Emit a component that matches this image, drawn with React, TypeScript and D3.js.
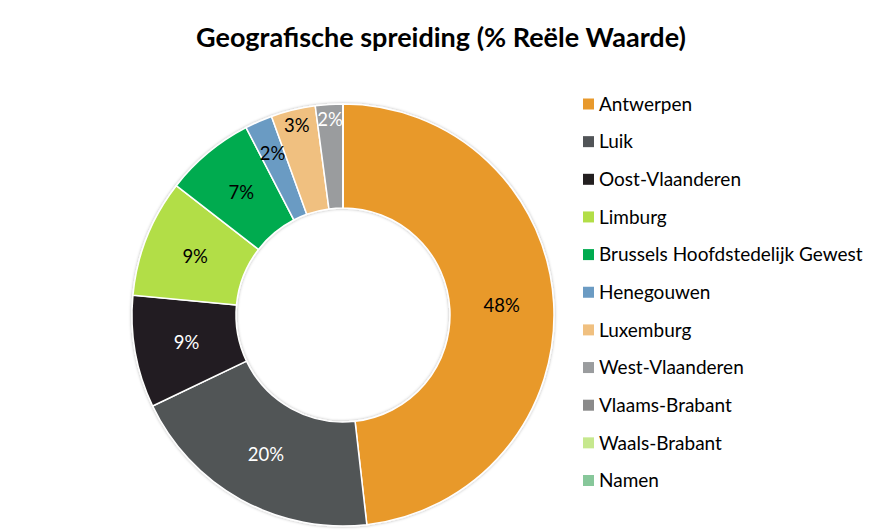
import React, { useEffect, useRef } from 'react';
import * as d3 from 'd3';

const regions = [
  'Antwerpen',
  'Luik',
  'Oost-Vlaanderen',
  'Limburg',
  'Brussels Hoofdstedelijk Gewest',
  'Henegouwen',
  'Luxemburg',
  'West-Vlaanderen',
  'Vlaams-Brabant',
  'Waals-Brabant',
  'Namen'
];
const shares = [48.2, 19.7, 8.6, 9.0, 6.9, 2.1, 3.4, 2.1, 0, 0, 0];
const colors = [
  '#E8992C', '#515457', '#231F20', '#B2DE47', '#00AB4F', '#6B9BC3',
  '#F0C080', '#9A9C9E', '#8A8A8A', '#C6E88E', '#87C79A'
];
const labelColors = ['#000', '#fff', '#fff', '#000', '#000', '#000', '#000', '#fff', '#000', '#000', '#000'];
// label radius per slice (small slices pushed outward, as in the original)
const labelRadius = [159, 159, 159, 159, 159, 176, 195, 196, 159, 159, 159];
const title = 'Geografische spreiding (% Reële Waarde)';

const W = 885;
const H = 531;

const App: React.FC = () => {
  const svgRef = useRef<SVGSVGElement>(null);

  useEffect(() => {
    if (!svgRef.current) return;
    const svg = d3.select(svgRef.current);
    svg.selectAll('*').remove();

    const font = 'Lato, "Open Sans", sans-serif';
    const cx = 343, cy = 315;
    const outer = 211, inner = 107;

    const defs = svg.append('defs');
    const f = defs.append('filter').attr('id', 'shadow')
      .attr('x', '-10%').attr('y', '-10%').attr('width', '120%').attr('height', '120%');
    f.append('feDropShadow')
      .attr('dx', 0).attr('dy', 0).attr('stdDeviation', 1.5)
      .attr('flood-color', '#000').attr('flood-opacity', 0.3);

    svg.append('text')
      .attr('x', 441).attr('y', 47)
      .attr('text-anchor', 'middle')
      .attr('font-family', font)
      .attr('font-weight', 'bold')
      .attr('font-size', 27)
      .attr('fill', '#000')
      .text(title);

    const pie = d3.pie<number>().value(d => d).sort(null);
    const arcs = pie(shares);
    const arc = d3.arc<d3.PieArcDatum<number>>().innerRadius(inner).outerRadius(outer);
    const total = d3.sum(shares);

    const g = svg.append('g').attr('transform', `translate(${cx},${cy})`);

    g.append('g').attr('filter', 'url(#shadow)')
      .selectAll('path')
      .data(arcs)
      .join('path')
      .attr('d', arc)
      .attr('fill', (d, i) => colors[i])
      .attr('stroke', '#fff')
      .attr('stroke-width', 1.5);

    g.selectAll('text.lbl')
      .data(arcs.filter(d => d.value > 0))
      .join('text')
      .attr('class', 'lbl')
      .attr('transform', d => {
        const a = (d.startAngle + d.endAngle) / 2;
        const r = labelRadius[d.index];
        return `translate(${Math.sin(a) * r},${-Math.cos(a) * r})`;
      })
      .attr('text-anchor', 'middle')
      .attr('dy', '0.35em')
      .attr('font-family', font)
      .attr('font-size', 18.5)
      .attr('fill', d => labelColors[d.index])
      .text(d => `${Math.round((d.value / total) * 100)}%`);

    const legend = svg.append('g').attr('transform', 'translate(583,104)');
    const rowH = 37.65;
    const rows = legend.selectAll('g')
      .data(regions)
      .join('g')
      .attr('transform', (d, i) => `translate(0,${i * rowH})`);
    rows.append('rect')
      .attr('x', 0).attr('y', -5.5)
      .attr('width', 11).attr('height', 11)
      .attr('fill', (d, i) => colors[i]);
    rows.append('text')
      .attr('x', 16).attr('y', 0)
      .attr('dy', '0.35em')
      .attr('font-family', font)
      .attr('font-size', 19)
      .attr('fill', '#000')
      .text(d => d);
  }, []);

  return (
    <div style={{ position: 'fixed', left: 0, top: 0 }}>
      <svg ref={svgRef} width={W} height={H} style={{ display: 'block', background: '#fff' }} />
    </div>
  );
};

export default App;
